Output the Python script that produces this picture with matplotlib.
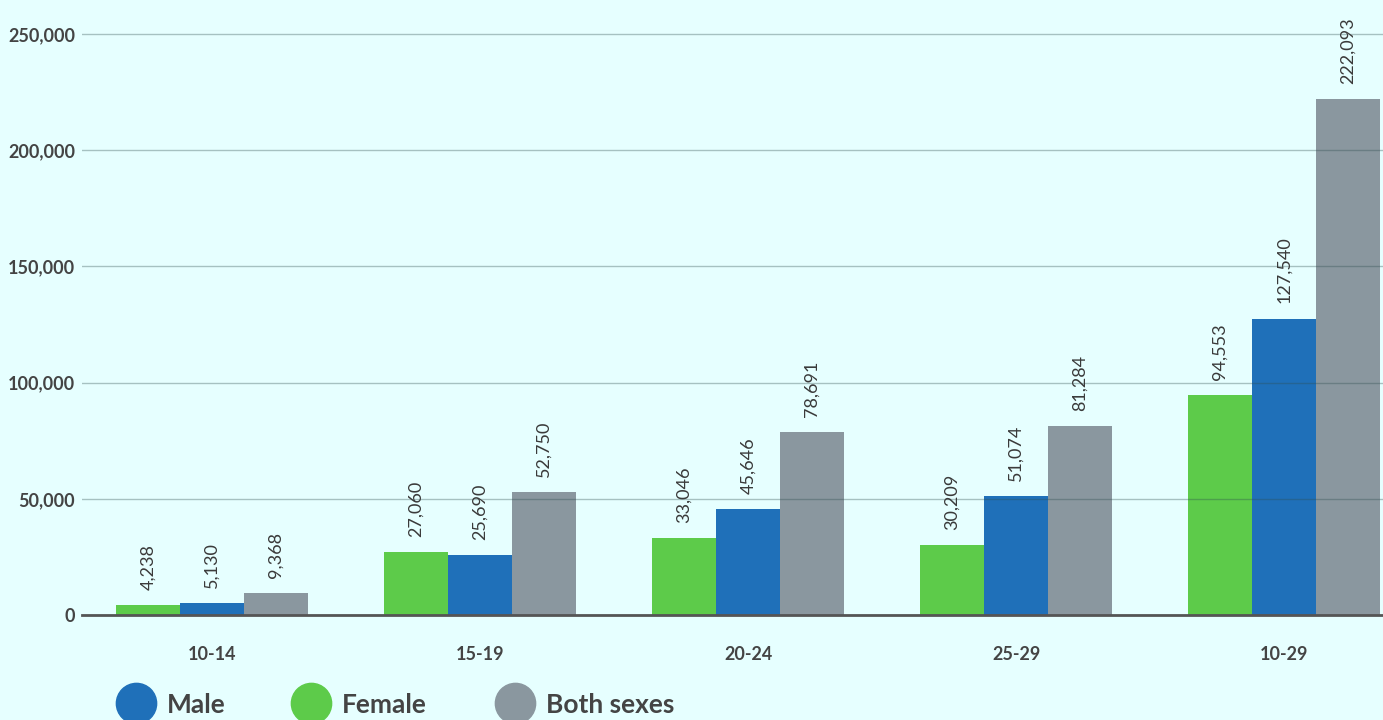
import matplotlib
matplotlib.use("Agg")
import matplotlib.pyplot as plt
from matplotlib.lines import Line2D
from matplotlib.ticker import FuncFormatter
import numpy as np

# Age groups and counts
age_groups = ["10-14", "15-19", "20-24", "25-29", "10-29"]
female = [4238, 27060, 33046, 30209, 94553]
male = [5130, 25690, 45646, 51074, 127540]
both_sexes = [9368, 52750, 78691, 81284, 222093]
y_ticks = [0, 50000, 100000, 150000, 200000, 250000]

BG = "#E6FFFF"
GREEN = "#5DCB4A"
BLUE = "#1F70B9"
GREY = "#8A979F"
TEXT = "#444444"

plt.rcParams["font.family"] = ["Lato", "DejaVu Sans"]

W, H = 1383, 720
fig = plt.figure(figsize=(W / 100, H / 100), dpi=100, facecolor=BG)
ax = fig.add_axes([82 / W, (H - 615) / H, (W - 82) / W, 615 / H])
ax.set_facecolor(BG)

x = np.arange(len(age_groups))
bw = 0.239
series = [(female, GREEN, -bw), (male, BLUE, 0.0), (both_sexes, GREY, bw)]
for vals, col, off in series:
    bars = ax.bar(x + off, vals, width=bw, color=col, zorder=1)
    for rect, v in zip(bars, vals):
        ax.annotate(f"{v:,}", xy=(rect.get_x() + rect.get_width() / 2, v),
                    xytext=(0, 11), textcoords="offset points",
                    rotation=90, ha="center", va="bottom",
                    fontsize=13, color="#3A3A3A", zorder=5)

ax.set_xlim(-0.485, 4.369)
ax.set_ylim(0, 264600)
ax.set_yticks(y_ticks)
ax.yaxis.set_major_formatter(FuncFormatter(lambda v, p: f"{int(v):,}"))
ax.set_xticks(x)
ax.set_xticklabels(age_groups)

ax.grid(axis="y", color="#2F4F4F", alpha=0.35, linewidth=1, zorder=3)
ax.set_axisbelow(False)
ax.grid(axis="x", visible=False)

for s in ["top", "right", "left"]:
    ax.spines[s].set_visible(False)
ax.spines["bottom"].set_color("#555555")
ax.spines["bottom"].set_linewidth(2)
ax.spines["bottom"].set_zorder(4)

ax.tick_params(axis="y", length=0, pad=5, labelsize=13, labelcolor=TEXT)
ax.tick_params(axis="x", length=0, pad=22, labelsize=13, labelcolor=TEXT)
for lbl in ax.get_xticklabels() + ax.get_yticklabels():
    lbl.set_fontweight("bold")

# Legend with large circular keys along the bottom edge
legend_items = [("Male", BLUE, 136, 167), ("Female", GREEN, 311, 342),
                ("Both sexes", GREY, 515, 546)]
for label, col, cx, tx in legend_items:
    fig.add_artist(Line2D([cx / W], [(H - 703) / H], marker="o",
                          markersize=29, color=col, linestyle="none",
                          transform=fig.transFigure))
    fig.text(tx / W, (H - 705) / H, label, ha="left", va="center",
             fontsize=19, fontweight="bold", color=TEXT)

fig.savefig("out.png", dpi=100, facecolor=BG)
